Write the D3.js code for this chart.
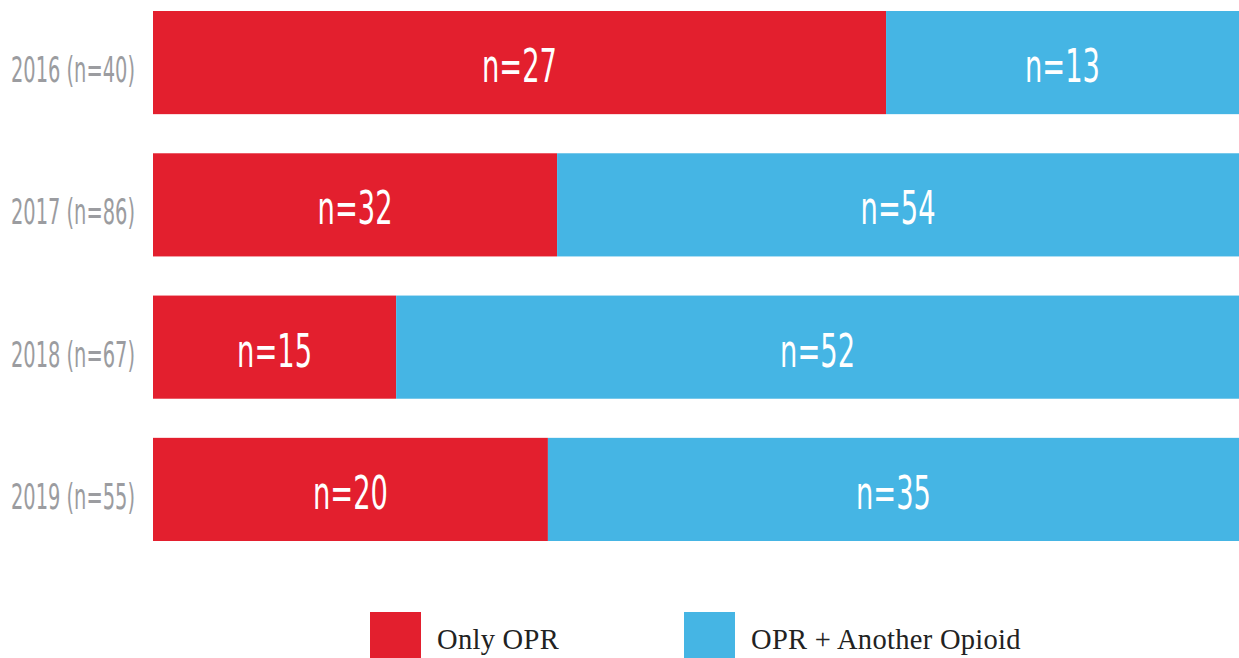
<!DOCTYPE html>
<html>
<head>
<meta charset="utf-8">
<script src="https://cdn.jsdelivr.net/npm/d3@7"></script>
<style>
  body { margin: 0; background: #fff; overflow: hidden; }
  svg { display: block; }
</style>
</head>
<body>
<svg width="1239" height="658"></svg>
<script>
// data
var years = ["2016", "2017", "2018", "2019"];
var onlyOPR = [27, 32, 15, 20];
var oprPlusOther = [13, 54, 52, 35];
var seriesNames = ["Only OPR", "OPR + Another Opioid"];
var colors = ["#e31f2e", "#45b5e4"];

var svg = d3.select("svg"),
    margin = {top: 11, right: 0, bottom: 117, left: 153},
    width = +svg.attr("width"),
    height = +svg.attr("height");

var narrow = "'DejaVu Sans Condensed', 'Liberation Sans Narrow', sans-serif";

var rows = years.map(function(y, i) {
  var total = onlyOPR[i] + oprPlusOther[i];
  return {year: y, total: total, values: [onlyOPR[i], oprPlusOther[i]]};
});

var x = d3.scaleLinear().domain([0, 1]).range([margin.left, width - margin.right]);
var y = d3.scaleBand().domain(years)
    .range([margin.top, height - margin.bottom])
    .paddingInner(0.275).paddingOuter(0);

var row = svg.selectAll(".row")
  .data(rows)
  .enter().append("g")
    .attr("class", "row");

// stacked segments
row.each(function(d) {
  var g = d3.select(this);
  var start = 0;
  d.values.forEach(function(v, j) {
    var frac = v / d.total;
    var x0 = x(start), x1 = x(start + frac);
    g.append("rect")
      .attr("x", x0)
      .attr("y", y(d.year))
      .attr("width", x1 - x0)
      .attr("height", y.bandwidth())
      .attr("fill", colors[j]);
    var cx = (x0 + x1) / 2, cy = y(d.year) + y.bandwidth() / 2 + 19.5;
    g.append("text")
      .attr("transform", "translate(" + cx + "," + cy + ") scale(0.66,1)")
      .attr("text-anchor", "middle")
      .attr("font-family", narrow)
      .attr("font-size", 46)
      .attr("fill", "#fff")
      .text("n=" + v);
    start += frac;
  });
});

// year labels
row.append("text")
  .attr("transform", function(d) {
    return "translate(135," + (y(d.year) + y.bandwidth() / 2 + 19.5) + ") scale(0.6,1)";
  })
  .attr("text-anchor", "end")
  .attr("font-family", narrow)
  .attr("font-size", 36)
  .attr("fill", "#9b9ca0")
  .text(function(d) { return d.year + " (n=" + d.total + ")"; });

// legend
var legendX = [370, 684];
var legend = svg.selectAll(".legend")
  .data(seriesNames)
  .enter().append("g")
    .attr("class", "legend")
    .attr("transform", function(d, i) { return "translate(" + legendX[i] + ",612)"; });

legend.append("rect")
  .attr("width", 51)
  .attr("height", 51)
  .attr("fill", function(d, i) { return colors[i]; });

legend.append("text")
  .attr("x", 67)
  .attr("y", 37)
  .attr("font-family", "'Liberation Serif', 'DejaVu Serif', serif")
  .attr("font-size", 28.5)
  .attr("letter-spacing", 0.3)
  .attr("fill", "#222")
  .text(function(d) { return d; });
</script>
</body>
</html>
